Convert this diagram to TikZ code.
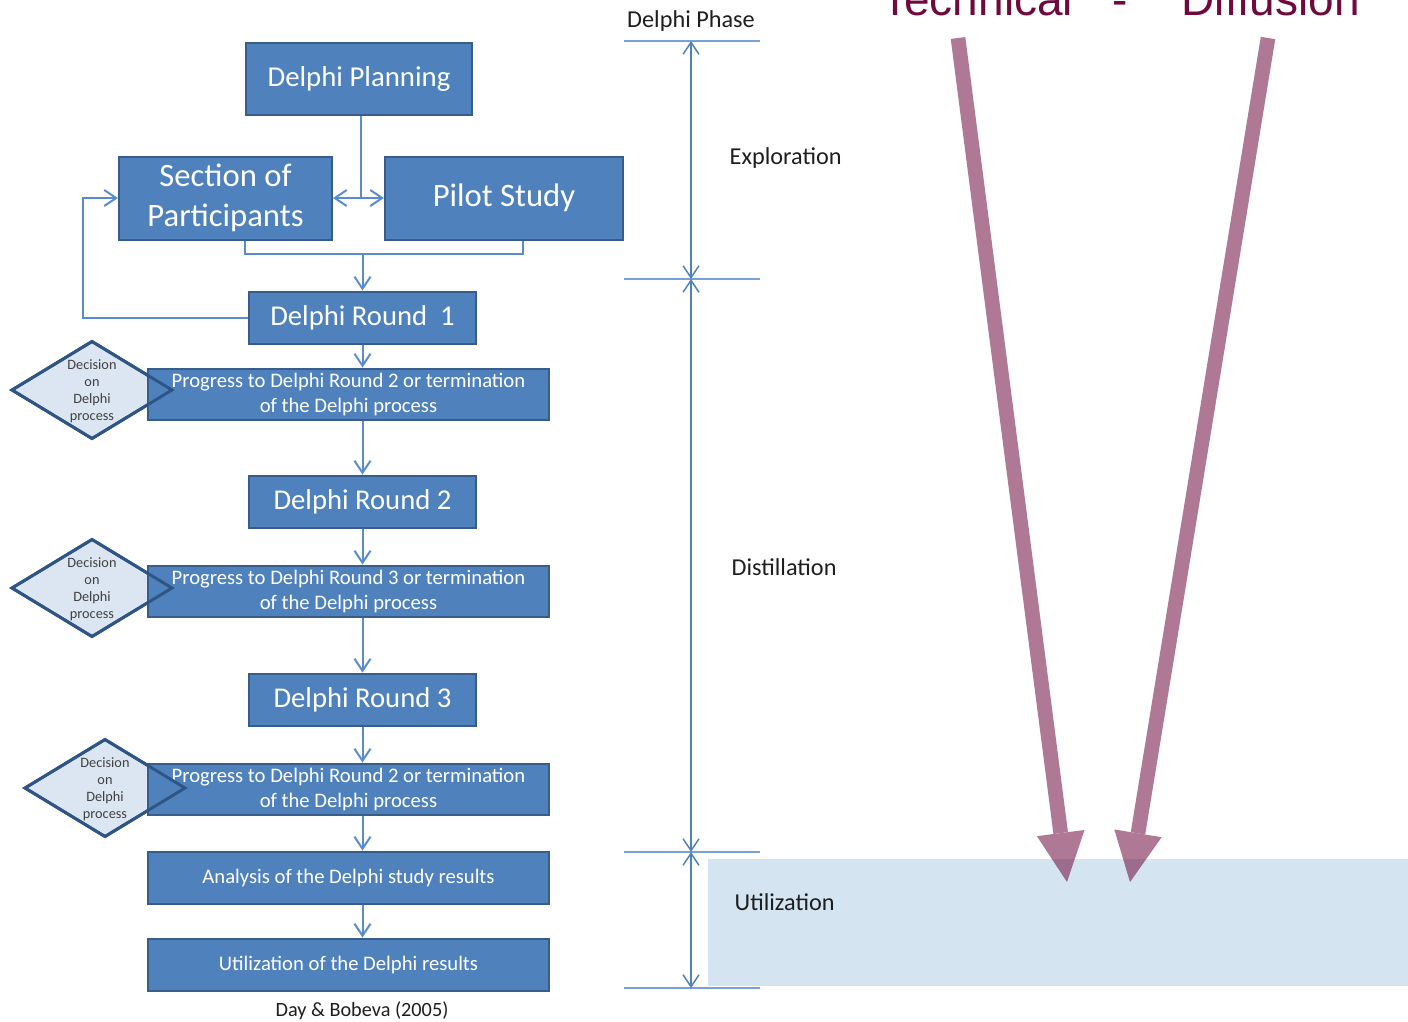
\documentclass[tikz,border=0pt]{standalone}
\usepackage{fontspec}
\setmainfont{Carlito}
\newfontfamily\headfont{Liberation Sans}
\usetikzlibrary{arrows.meta, shapes.geometric, positioning, calc}
\definecolor{boxfill}{RGB}{79,129,189}
\definecolor{boxline}{RGB}{56,93,138}
\definecolor{linkblue}{RGB}{88,140,205}
\definecolor{diamfill}{RGB}{220,230,242}
\definecolor{diamline}{RGB}{47,85,135}
\definecolor{ink}{RGB}{30,30,30}
\definecolor{grayink}{RGB}{64,64,64}
\definecolor{tickblue}{RGB}{120,162,215}
\definecolor{utilband}{RGB}{212,228,240}
\definecolor{wine}{RGB}{110,10,60}
\newlength{\upx}\setlength{\upx}{0.75pt}

\begin{document}
\begin{tikzpicture}[x=0.75pt, y=-0.75pt,
    box/.style={draw=boxline, line width=1.5pt, fill=boxfill, text=white, align=center, inner sep=0pt},
    bigbox/.style={box, font=\fontsize{24.5}{30}\selectfont},
    roundbox/.style={box, minimum width=227\upx, minimum height=52\upx, font=\fontsize{21.5}{26}\selectfont},
    progbox/.style={box, minimum width=401\upx, minimum height=51\upx, font=\fontsize{15.5}{18.75}\selectfont},
    decision/.style={diamond, draw=diamline, line width=2.2pt, fill=diamfill, minimum width=160\upx, minimum height=97\upx, inner sep=0pt, outer sep=0pt},
    decisiontext/.style={text=grayink, align=center, font=\fontsize{10.7}{12.75}\selectfont},
    link/.style={draw=linkblue, line width=1.5pt},
    linkarrow/.style={link, -{Straight Barb[length=9pt,width=12pt]}},
    phase/.style={text=ink, font=\fontsize{18.2}{22}\selectfont},
    dim/.style={draw=boxfill, line width=1.1pt, {Straight Barb[length=9pt,width=12pt]}-{Straight Barb[length=9pt,width=12pt]}},
    bigarrow/.style={draw=wine, fill=wine, line width=11pt, line cap=butt, -{Triangle[length=37pt,width=36pt,line width=0pt 0]}}]
  \useasboundingbox (0,0) rectangle (1408,1021);
  \clip (0,0) rectangle (1408,1021);

  % bandeau utilisation
  \fill[utilband] (708,859) rectangle (1408,986);

  % titre coupe
  \node[anchor=base west, inner sep=0pt, text=wine, font=\headfont\fontsize{34.5}{40}\selectfont] (theme) at (881,15) {Technical\hspace{30pt}-\hspace{40pt}Diffusion};

  % boites du haut
  \node[box, minimum width=226\upx, minimum height=72\upx, font=\fontsize{21.6}{26}\selectfont] (plan) at (359,79) {Delphi Planning};
  \node[bigbox, minimum width=213\upx, minimum height=83\upx] (sect) at (225.5,198) {Section of\\Participants};
  \node[bigbox, minimum width=238\upx, minimum height=83\upx] (pilot) at (504,198) {Pilot Study};
  \node[roundbox] (r1) at (362.5,317.5) {Delphi Round\ \ 1};

  % decisions (fond)
  \node[decision] (d1) at (92,390) {};
  \node[decision] (d2) at (92,588) {};
  \node[decision] (d3) at (105,788) {};

  % rounds et progression
  \node[progbox] (p1) at (348.5,394) {Progress to Delphi Round 2 or termination\\of the Delphi process};
  \node[roundbox] (r2) at (362.5,501.5) {Delphi Round 2};
  \node[progbox] (p2) at (348.5,591) {Progress to Delphi Round 3 or termination\\of the Delphi process};
  \node[roundbox] (r3) at (362.5,699.5) {Delphi Round 3};
  \node[progbox] (p3) at (348.5,789) {Progress to Delphi Round 2 or termination\\of the Delphi process};
  \node[progbox, minimum height=52\upx] (ana) at (348.5,877.5) {Analysis of the Delphi study results};
  \node[progbox, minimum height=52\upx] (use) at (348.5,964.5) {Utilization of the Delphi results};

  % contours des losanges par-dessus
  \foreach \d in {d1,d2,d3}
    \draw[diamline, line width=2.2pt] (\d.north) -- (\d.east) -- (\d.south) -- (\d.west) -- cycle;
  \node[decisiontext] (d1t) at (92,391) {Decision\\on\\Delphi\\process};
  \node[decisiontext] (d2t) at (92,589) {Decision\\on\\Delphi\\process};
  \node[decisiontext] (d3t) at (105,789) {Decision\\on\\Delphi\\process};

  % liaisons
  \coordinate (split) at (361,198);
  \coordinate (mergeL) at (245,254);
  \coordinate (mergeR) at (523,254);
  \coordinate (fb) at (83,317.5);
  \draw[link] (split |- plan.south) -- (split);
  \draw[linkarrow] (split) -- (sect.east);
  \draw[linkarrow] (split) -- (pilot.west);
  \draw[link] (mergeL |- sect.south) -- (mergeL) -- (mergeR) -- (mergeR |- pilot.south);
  \draw[linkarrow] (r1.north |- mergeL) -- (r1.north);
  \draw[linkarrow] (r1.west) -- (fb) |- (sect.west);
  \draw[linkarrow] (r1.south) -- (r1.south |- p1.north);
  \draw[linkarrow] (r2.north |- p1.south) -- (r2.north);
  \draw[linkarrow] (r2.south) -- (r2.south |- p2.north);
  \draw[linkarrow] (r3.north |- p2.south) -- (r3.north);
  \draw[linkarrow] (r3.south) -- (r3.south |- p3.north);
  \draw[linkarrow] (r3.south |- p3.south) -- (r3.south |- ana.north);
  \draw[linkarrow] (r3.south |- ana.south) -- (r3.south |- use.north);

  \node[text=ink, font=\fontsize{15.2}{18}\selectfont] (cite) at (362,1011) {Day \& Bobeva (2005)};

  % phases
  \node[phase] (phasehead) at (691,21) {Delphi Phase};
  \foreach \y in {41,279,852,988}
    \draw[tickblue, line width=2.2pt] (624,\y) -- (760,\y);
  \coordinate (ph0) at (691,41);
  \coordinate (ph1) at (691,279);
  \coordinate (ph2) at (691,852);
  \coordinate (ph3) at (691,988);
  \draw[dim] (ph0) -- (ph1);
  \draw[dim] (ph1) -- (ph2);
  \draw[dim] (ph2) -- (ph3);
  \node[phase, anchor=west] (explo) at (725,158) {Exploration};
  \node[phase, anchor=west] (distil) at (727,567) {Distillation};
  \node[phase, anchor=west] (util) at (730,902) {Utilization};

  % fleches convergentes
  \coordinate (tA) at (958,38);
  \coordinate (hA) at (1067,882);
  \coordinate (tB) at (1268,38);
  \coordinate (hB) at (1130,882);
  \begin{scope}[transparency group, opacity=0.55]
    \draw[bigarrow] (tA) -- (hA);
    \draw[bigarrow] (tB) -- (hB);
  \end{scope}
\end{tikzpicture}
\end{document}
